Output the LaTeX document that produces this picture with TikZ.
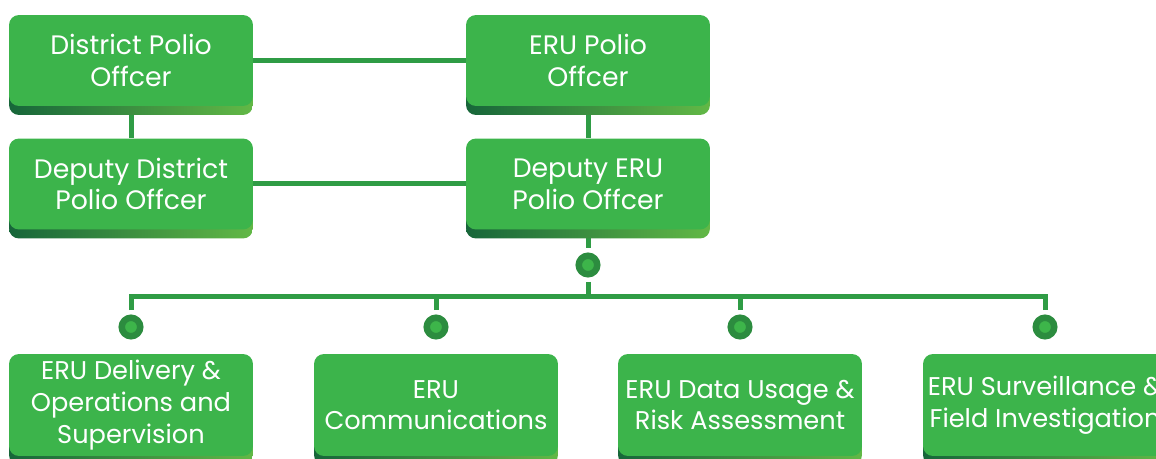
\documentclass[tikz,border=0pt]{standalone}
\usepackage{fontspec}
\setmainfont{Poppins}
\usetikzlibrary{shadows}
\usetikzlibrary{backgrounds}

\definecolor{boxgreen}{HTML}{3CB44B}
\definecolor{shadedark}{HTML}{17663A}
\definecolor{shadelight}{HTML}{62B846}
\definecolor{linkgreen}{HTML}{2F9C45}
\definecolor{dotouter}{HTML}{2C8C3F}
\definecolor{dotinner}{HTML}{3DB54A}

\tikzset{
  unit/.style={fill=boxgreen, rounded corners=0.2cm, minimum width=4.88cm,
    minimum height=1.82cm, text=white, align=center, inner sep=0pt,
    font=\fontsize{15.2}{18}\selectfont,
    general shadow={shadow yshift=-0.18cm, left color=shadedark, right color=shadelight}},
  lowunit/.style={unit, minimum height=2.04cm, font=\fontsize{14.6}{18}\selectfont},
  link/.style={draw=linkgreen, line width=0.1cm},
  jdot/.style={circle, fill=dotinner, draw=dotouter, line width=0.13cm,
    inner sep=0pt, minimum size=0.37cm}
}

\begin{document}
\begin{tikzpicture}[x=0.02cm, y=-0.02cm]
  \useasboundingbox (0,0) rectangle (1156,459);
  \clip (0,0) rectangle (1156,459);

  % top two rows
  \node[unit] (distpolio) at (131,60.5) {District Polio\\Offcer};
  \node[unit] (erupolio) at (588,60.5) {ERU Polio\\Offcer};
  \node[unit] (deputydist) at (131,184) {Deputy District\\Polio Offcer};
  \node[unit] (deputyeru) at (588,184) {Deputy ERU\\Polio Offcer};

  % teams
  \node[lowunit] (delivery) at (131,405) {ERU Delivery \&\\Operations and\\Supervision};
  \node[lowunit] (comms) at (436,405) {ERU\\Communications};
  \node[lowunit] (datausage) at (740,405) {ERU Data Usage \&\\Risk Assessment};
  \node[lowunit] (surveil) at (1045,405) {ERU Surveillance \&\\Field Investigation};

  % junctions
  \node[jdot] (hubdot) at (588,265) {};
  \node[jdot] (deliverydot) at (131,327) {};
  \node[jdot] (commsdot) at (436,327) {};
  \node[jdot] (datadot) at (740,327) {};
  \node[jdot] (surveildot) at (1045,327) {};
  \coordinate (busmid) at (588,296);

  \begin{scope}[on background layer]
    \draw[link] (distpolio.east) -- (erupolio.west);
    \draw[link] (deputydist.east) -- (deputyeru.west);
    \draw[link] (distpolio.south) -- (deputydist.north);
    \draw[link] (erupolio.south) -- (deputyeru.north);
    \draw[link, shorten >=2.5pt] (deputyeru.south) -- (hubdot.north);
    \draw[link, shorten <=2.5pt] (hubdot.south) -- (busmid);
    \draw[link, shorten <=2.5pt] (deliverydot.north) |- (busmid);
    \draw[link, shorten <=2.5pt] (commsdot.north) |- (busmid);
    \draw[link, shorten <=2.5pt] (datadot.north) |- (busmid);
    \draw[link, shorten <=2.5pt] (surveildot.north) |- (busmid);
  \end{scope}
\end{tikzpicture}
\end{document}
